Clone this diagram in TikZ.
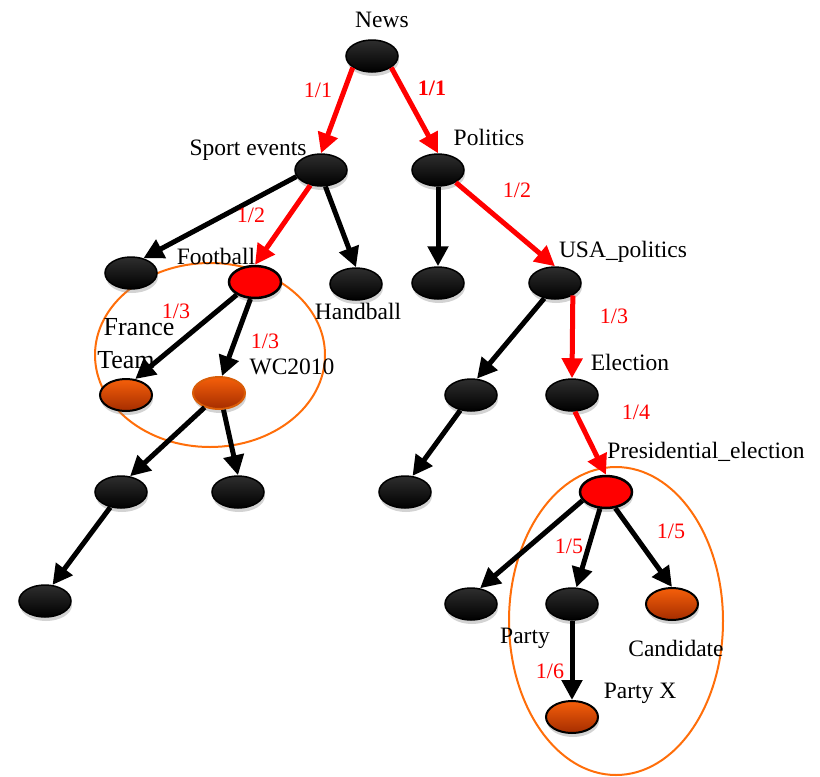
\documentclass[tikz,border=0pt]{standalone}
\usepackage{fontspec}
\setmainfont{Liberation Serif}
\usetikzlibrary{shapes.geometric,shadows,arrows.meta}
\definecolor{otop}{RGB}{245,95,10}
\definecolor{obot}{RGB}{165,45,0}
\definecolor{ring}{RGB}{255,110,10}
\begin{document}
\begin{tikzpicture}[x=1pt,y=-1pt,
  every node/.style={font=\fontsize{23.5}{27}\selectfont},
  base/.style={ellipse, minimum width=52pt, minimum height=32pt, inner sep=0pt,
    drop shadow={opacity=0.35, shadow xshift=1pt, shadow yshift=-4pt}},
  blk/.style={base, draw=black, line width=1.5pt, top color=black!82, bottom color=black},
  rd/.style={base, draw=black, line width=2.5pt, fill=red},
  org/.style={base, draw=black, line width=2pt, top color=otop, bottom color=obot},
  orgl/.style={base, draw=ring!85!black, line width=2pt, top color=otop, bottom color=obot},
  lab/.style={inner sep=0pt, text=black},
  big/.style={lab, font=\fontsize{26}{30}\selectfont},
  num/.style={inner sep=0pt, text=red, font=\fontsize{22}{26}\selectfont},
  ared/.style={draw=red, line width=5pt, -{Triangle[length=20pt,width=20pt]}},
  ablk/.style={draw=black, line width=5pt, -{Triangle[length=20pt,width=20pt]}},
  ringst/.style={draw=ring, line width=2pt}]
\useasboundingbox (0,0) rectangle (820,777);
% orange groups
\draw[ringst] (210,355) ellipse [x radius=115, y radius=92];
\draw[ringst] (616,621) ellipse [x radius=107, y radius=154];
% nodes
\node[blk] (news) at (372,56) {};
\node[blk] (sport) at (321,170) {};
\node[blk] (pol) at (438,170) {};
\node[blk] (ll) at (131,273) {};
\node[rd] (foot) at (255,282) {};
\node[blk] (hand) at (356,284) {};
\node[blk] (polc) at (438,283) {};
\node[blk] (usa) at (555,283) {};
\node[org] (fr) at (126,395) {};
\node[orgl] (wc) at (219,393) {};
\node[blk] (usal) at (471,395) {};
\node[blk] (elec) at (572,395) {};
\node[blk] (wcl) at (121,492) {};
\node[blk] (wcr) at (238,492) {};
\node[blk] (usall) at (405,492) {};
\node[rd] (pres) at (606,492) {};
\node[blk] (far) at (45,601) {};
\node[blk] (presl) at (471,604) {};
\node[blk] (party) at (572,604) {};
\node[org] (cand) at (672,604) {};
\node[org] (px) at (572,717) {};
% edges
\draw[ared] (news.211) -- (sport.north);
\draw[ared] (news.-31) -- (pol.north);
\draw[ared] (sport.235) -- (foot.north);
\draw[ablk] (sport.195) -- (ll.50);
\draw[ablk] (sport.-75) -- (hand.north);
\draw[ablk] (pol.south) -- (polc.north);
\draw[ared] (pol.-35) -- (usa.north);
\draw[ared] (usa.-35) -- (elec.north);
\draw[ablk] (usa.235) -- (usal.70);
\draw[ablk] (usal.235) -- (usall.65);
\draw[ared] (elec.-80) -- (pres.north);
\draw[ablk] (foot.215) -- (fr.60);
\draw[ablk] (foot.255) -- (wc.80);
\draw[ablk] (wc.225) -- (wcl.60);
\draw[ablk] (wc.-75) -- (wcr.north);
\draw[ablk] (wcl.235) -- (far.65);
\draw[ablk] (pres.200) -- (presl.60);
\draw[ablk] (pres.250) -- (party.75);
\draw[ablk] (pres.-60) -- (cand.north);
\draw[ablk] (party.south) -- (px.north);
% labels
\node[lab] (tnews) at (382,20) {News};
\node[lab] (tsport) at (248,150) {Sport events};
\node[lab] (tpol) at (489,137) {Politics};
\node[lab] (tfoot) at (216,256) {Football};
\node[lab] (thand) at (358,311) {Handball};
\node[lab] (tusa) at (623,252) {USA\_politics};
\node[big] (tfr1) at (139,327) {France};
\node[big] (tfr2) at (126,360) {Team};
\node[lab] (twc) at (292,367) {WC2010};
\node[lab] (telec) at (630,362) {Election};
\node[lab] (tpres) at (706,452) {Presidential\_election};
\node[lab] (tparty) at (525,638) {Party};
\node[lab] (tcand) at (676,648) {Candidate};
\node[lab] (tpx) at (640,693) {Party X};
\node[num] (n1) at (318,90) {1/1};
\node[num] (n2) at (432,88) {\bfseries 1/1};
\node[num] (n3) at (251,215) {1/2};
\node[num] (n4) at (517,190) {1/2};
\node[num] (n5) at (176,311) {1/3};
\node[num] (n6) at (265,341) {1/3};
\node[num] (n7) at (614,316) {1/3};
\node[num] (n8) at (636,412) {1/4};
\node[num] (n9) at (569,546) {1/5};
\node[num] (n10) at (671,531) {1/5};
\node[num] (n11) at (550,671) {1/6};
\end{tikzpicture}
\end{document}
